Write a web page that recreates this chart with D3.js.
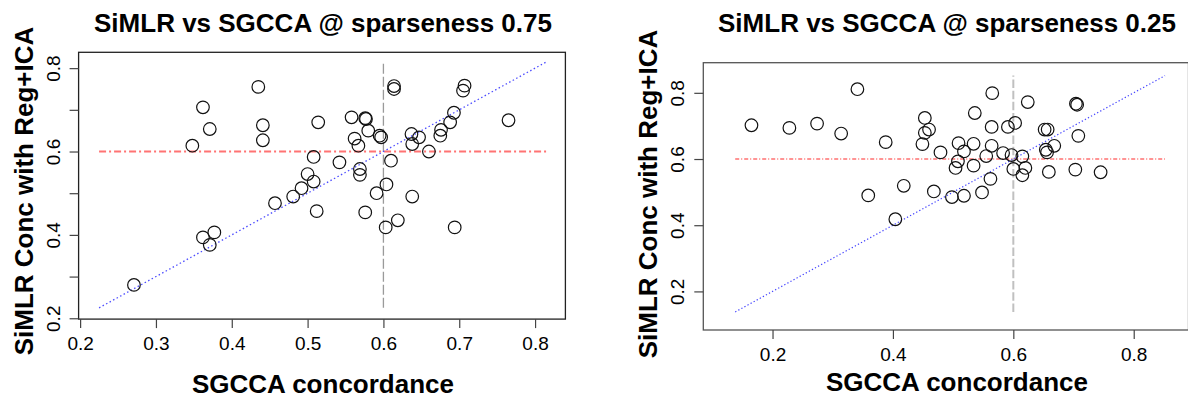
<!DOCTYPE html>
<html>
<head>
<meta charset="utf-8">
<script src="https://cdn.jsdelivr.net/npm/d3@7"></script>
<style>
  body { margin: 0; background: #fff; }
  svg { display: block; font-family: "Liberation Sans", Arial, Helvetica, sans-serif; }
  .circ { fill: none; stroke: #111; stroke-width: 1.2px; }
  .title, .xlab, .ylab { font-weight: bold; font-size: 26px; fill: #000; }
  .axis text { font-size: 19px; fill: #000; font-family: "Liberation Sans", Arial, sans-serif; }
  .axis line { stroke: #444; stroke-width: 1.2px; }
</style>
</head>
<body>
<div id="chart"></div>
<script>
// titles and labels
const titles = ["SiMLR vs SGCCA @ sparseness 0.75", "SiMLR vs SGCCA @ sparseness 0.25"];
const xTitle = "SGCCA concordance";
const yTitle = "SiMLR Conc with Reg+ICA";

// sparseness 0.75 panel
const sgccaA = [0.271,0.362,0.377,0.371,0.348,0.362,0.371,0.435,0.441,0.441,0.457,0.481,0.492,0.500,0.508,0.508,0.512,0.514,0.542,0.558,0.562,0.567,0.569,0.569,0.576,0.577,0.580,0.576,0.591,0.595,0.597,0.603,0.604,0.610,0.614,0.614,0.619,0.637,0.638,0.647,0.638,0.660,0.676,0.675,0.688,0.693,0.694,0.707,0.705,0.765];
const simlrA = [0.280,0.394,0.406,0.376,0.614,0.706,0.654,0.755,0.663,0.627,0.476,0.492,0.512,0.546,0.528,0.587,0.457,0.670,0.574,0.682,0.631,0.614,0.558,0.544,0.680,0.678,0.650,0.454,0.500,0.638,0.634,0.418,0.521,0.578,0.757,0.750,0.435,0.642,0.618,0.634,0.492,0.600,0.652,0.638,0.670,0.693,0.418,0.758,0.746,0.675];

// sparseness 0.25 panel
const sgccaB = [0.165,0.228,0.274,0.314,0.341,0.359,0.388,0.404,0.418,0.453,0.453,0.460,0.449,0.468,0.479,0.498,0.504,0.509,0.508,0.518,0.518,0.534,0.534,0.536,0.548,0.555,0.562,0.564,0.564,0.565,0.583,0.591,0.597,0.603,0.600,0.615,0.620,0.615,0.624,0.652,0.657,0.654,0.656,0.668,0.659,0.704,0.706,0.708,0.703,0.745];
const simlrB = [0.702,0.694,0.707,0.677,0.811,0.490,0.651,0.418,0.519,0.724,0.679,0.689,0.645,0.502,0.620,0.485,0.573,0.648,0.593,0.623,0.489,0.580,0.646,0.739,0.499,0.609,0.540,0.640,0.697,0.799,0.618,0.697,0.612,0.709,0.570,0.608,0.573,0.551,0.772,0.689,0.689,0.628,0.620,0.640,0.561,0.767,0.764,0.670,0.568,0.560];

// ticks
const ticksA = [0.2, 0.3, 0.4, 0.5, 0.6, 0.7, 0.8];
const yLabelledA = [0.2, 0.4, 0.6, 0.8];
const ticksB = [0.2, 0.4, 0.6, 0.8];

// reference lines: span and cut value
const refSpanA = [0.225, 0.815];
const refSpanB = [0.138, 0.852];
const cutValue = 0.6;

const width = 1188, height = 396;

const panels = [
  { title: titles[0], xs: sgccaA, ys: simlrA, xTicks: ticksA, yTicks: ticksA, yLabelled: yLabelledA,
    span: refSpanA, xLim: [0.198, 0.840], yLim: [0.198, 0.838],
    box: { l: 78.6, r: 565.4, t: 52.3, b: 319.1 }, titleX: 323, xlabX: 323, xlabY: 393, ylabY: 191,
    boxColor: "#222", hColor: "#ff7373", hWidth: 2, hDash: "7,3,2,3",
    vColor: "#9a9a9a", vWidth: 1.3, vDash: "10,3",
    dColor: "#4d4dff", dWidth: 1.3, dDash: "1.5,2.5" },
  { title: titles[1], xs: sgccaB, ys: simlrB, xTicks: ticksB, yTicks: ticksB, yLabelled: ticksB,
    span: refSpanB, xLim: [0.085, 0.891], yLim: [0.0834, 0.891],
    box: { l: 703.3, r: 1188.5, t: 62.7, b: 330 }, titleX: 947, xlabX: 957, xlabY: 391, ylabY: 194,
    boxColor: "#555", hColor: "#ff2a2a", hWidth: 1.1, hDash: "4,2,1,2",
    vColor: "#c0c0c0", vWidth: 2, vDash: "8.5,2.7",
    dColor: "#4444ff", dWidth: 1.2, dDash: "1.3,2.2" }
];

const svg = d3.select("#chart").append("svg")
  .attr("width", width)
  .attr("height", height);

const fmt = d3.format(".1f");

panels.forEach(p => {
  const x = d3.scaleLinear().domain(p.xLim).range([p.box.l, p.box.r]);
  const y = d3.scaleLinear().domain(p.yLim).range([p.box.b, p.box.t]);
  const g = svg.append("g");

  // box
  g.append("rect")
    .attr("x", p.box.l).attr("y", p.box.t)
    .attr("width", p.box.r - p.box.l).attr("height", p.box.b - p.box.t)
    .attr("fill", "none").attr("stroke", p.boxColor).attr("stroke-width", 1.3);

  // x axis
  const xAxis = g.append("g")
    .attr("class", "axis")
    .attr("transform", `translate(0,${p.box.b})`)
    .call(d3.axisBottom(x).tickValues(p.xTicks).tickSize(9).tickSizeOuter(0).tickPadding(8).tickFormat(fmt));
  xAxis.select(".domain").remove();
  xAxis.selectAll("text").attr("dy", 0).attr("y", 30.5);

  // y axis, labels turned
  const yAxis = g.append("g")
    .attr("class", "axis")
    .attr("transform", `translate(${p.box.l},0)`)
    .call(d3.axisLeft(y).tickValues(p.yTicks).tickSize(9).tickSizeOuter(0)
      .tickFormat(d => p.yLabelled.some(v => Math.abs(v - d) < 1e-9) ? fmt(d) : ""));
  yAxis.select(".domain").remove();
  yAxis.selectAll("text")
    .attr("transform", "rotate(-90)")
    .attr("x", 0).attr("y", -19).attr("dy", 0)
    .attr("text-anchor", "middle");

  // reference lines
  const line = d3.line().x(d => x(d[0])).y(d => y(d[1]));
  g.append("path")
    .attr("d", line(p.span.map(v => [v, cutValue])))
    .attr("fill", "none").attr("stroke", p.hColor)
    .attr("stroke-width", p.hWidth).attr("stroke-dasharray", p.hDash);
  g.append("path")
    .attr("d", line(p.span.map(v => [cutValue, v])))
    .attr("fill", "none").attr("stroke", p.vColor)
    .attr("stroke-width", p.vWidth).attr("stroke-dasharray", p.vDash);
  g.append("path")
    .attr("d", line(p.span.map(v => [v, v])))
    .attr("fill", "none").attr("stroke", p.dColor)
    .attr("stroke-width", p.dWidth).attr("stroke-dasharray", p.dDash);

  // points
  g.selectAll(".circ")
    .data(d3.zip(p.xs, p.ys))
    .enter()
    .append("circle")
    .attr("class", "circ")
    .attr("cx", d => x(d[0]))
    .attr("cy", d => y(d[1]))
    .attr("r", 6.3);

  // texts
  g.append("text").attr("class", "title")
    .attr("x", p.titleX).attr("y", 31.5)
    .attr("text-anchor", "middle").text(p.title);
  g.append("text").attr("class", "xlab")
    .attr("x", p.xlabX).attr("y", p.xlabY)
    .attr("text-anchor", "middle").text(xTitle);
  g.append("text").attr("class", "ylab")
    .attr("transform", `translate(${p.box.l - 46},${p.ylabY}) rotate(-90)`)
    .attr("text-anchor", "middle").text(yTitle);
});
</script>
</body>
</html>
